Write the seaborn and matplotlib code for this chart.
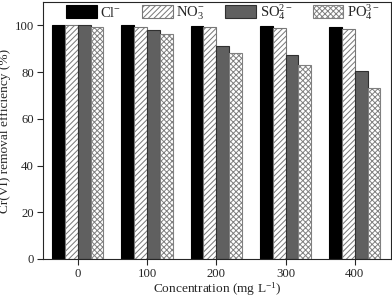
import matplotlib
matplotlib.use("Agg")
import matplotlib.pyplot as plt
import seaborn as sns
import pandas as pd
from matplotlib.patches import Patch

concentrations = ["0", "100", "200", "300", "400"]
anions = ["Cl$^{-}$", "NO$_3^{-}$", "SO$_4^{2-}$", "PO$_4^{3-}$"]
cl = [100.0, 100.0, 99.6, 99.6, 99.4]
no3 = [100.0, 99.3, 99.2, 98.9, 98.5]
so4 = [100.0, 98.2, 91.0, 87.3, 80.5]
po4 = [99.3, 96.3, 88.2, 82.9, 73.2]

rows = []
for series, vals in zip(anions, [cl, no3, so4, po4]):
    for c, v in zip(concentrations, vals):
        rows.append({"Concentration": c, "Anion": series, "Efficiency": v})
df = pd.DataFrame(rows)

sns.set_style("ticks")
plt.rcParams["font.family"] = ["Liberation Serif", "DejaVu Serif"]
plt.rcParams["mathtext.fontset"] = "custom"
plt.rcParams["mathtext.rm"] = "Liberation Serif"
plt.rcParams["mathtext.it"] = "Liberation Serif:italic"
plt.rcParams["hatch.linewidth"] = 0.7

fig = plt.figure(figsize=(3.92, 2.97), dpi=100)
ax = fig.add_axes([0.11, 0.128, 0.887, 0.865])

sns.barplot(data=df, x="Concentration", y="Efficiency", hue="Anion",
            order=concentrations, hue_order=anions, width=0.74,
            ax=ax, legend=False)

styles = [
    dict(facecolor="black", edgecolor="black", hatch=None),
    dict(facecolor="white", edgecolor="#777777", hatch="//////"),
    dict(facecolor="#606060", edgecolor="#303030", hatch=None),
    dict(facecolor="white", edgecolor="#808080", hatch="xxxxxx"),
]
for cont, st in zip(ax.containers, styles):
    for p in cont:
        p.set_facecolor(st["facecolor"])
        p.set_edgecolor(st["edgecolor"])
        p.set_linewidth(0.8)
        if st["hatch"]:
            p.set_hatch(st["hatch"])

handles = [Patch(facecolor=s["facecolor"], edgecolor=s["edgecolor"],
                 hatch=s["hatch"], linewidth=0.8) for s in styles]
ax.legend(handles, anions, ncol=4, loc="upper left",
          bbox_to_anchor=(64 / 392, 1.0), bbox_transform=fig.transFigure,
          frameon=False, fontsize=10.5,
          handlelength=2.1, handleheight=0.95, columnspacing=1.4,
          handletextpad=0.25, borderaxespad=0.0, borderpad=0.15)

ax.set_ylim(0, 110)
ax.set_xlim(-0.5, 4.52)
ax.set_yticks([0, 20, 40, 60, 80, 100])
ax.set_xlabel("Concentration (mg L$^{-1}$)", fontsize=9.6, labelpad=0.5)
ax.set_ylabel("Cr(VI) removal efficiency (%)", fontsize=9.6, labelpad=2.5)
ax.tick_params(axis="both", labelsize=9.2, direction="out", length=4, width=0.8, pad=2.5)
for s in ax.spines.values():
    s.set_linewidth(0.8)
    s.set_visible(True)

fig.savefig("out.png", dpi=100)
